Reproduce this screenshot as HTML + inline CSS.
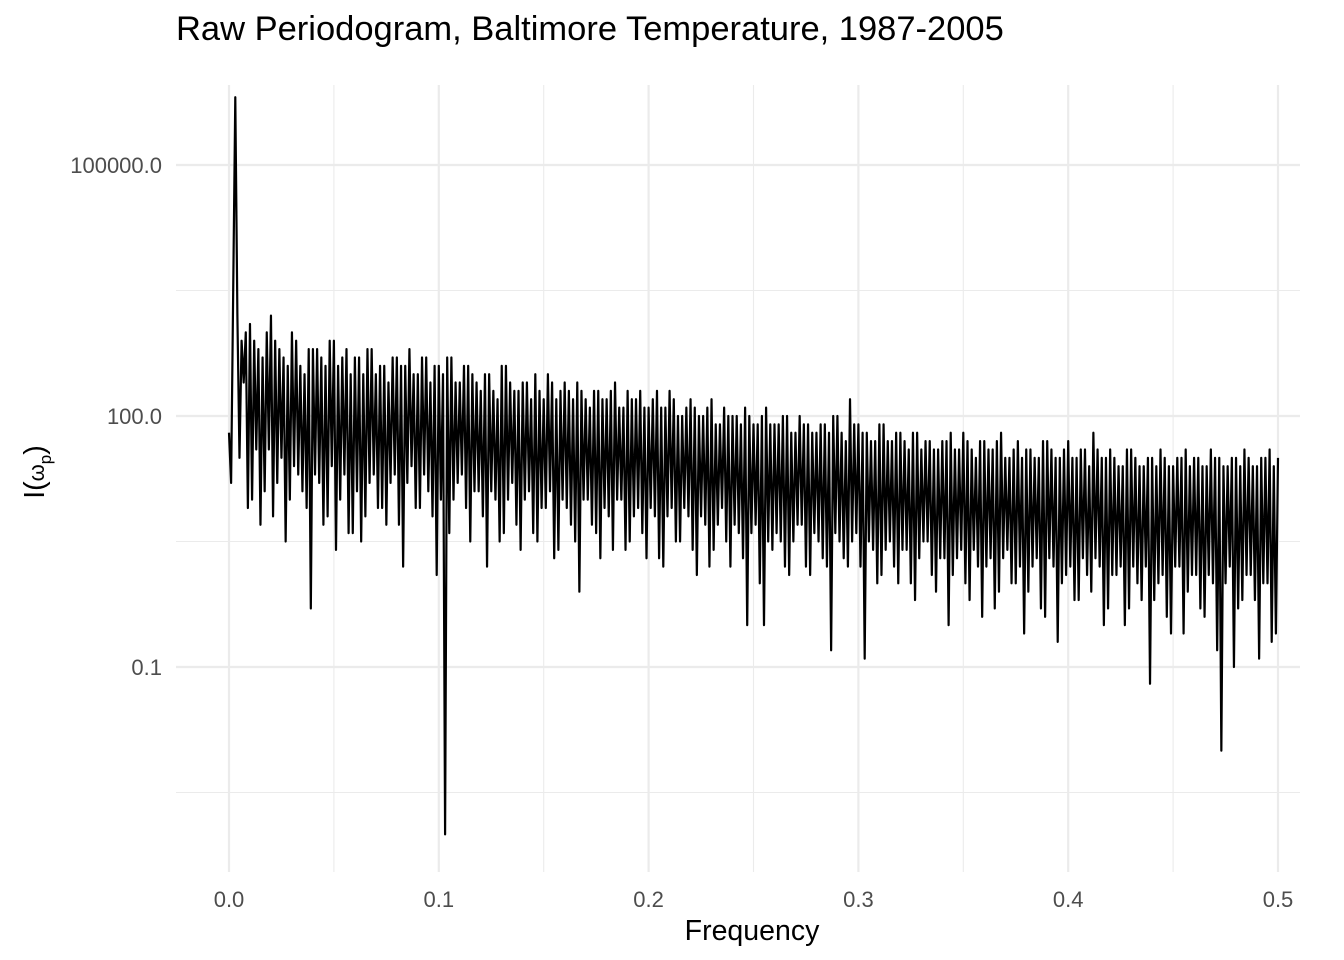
<!DOCTYPE html>
<html><head><meta charset="utf-8"><style>
html,body{margin:0;padding:0;background:#fff;}
svg{display:block;font-family:"Liberation Sans",sans-serif;}
</style></head><body>
<svg id="chart" width="1344" height="960" viewBox="0 0 1344 960">
<text x="176" y="40" font-size="34.5" fill="#000">Raw Periodogram, Baltimore Temperature, 1987-2005</text>
<text x="752" y="940" font-size="28.5" text-anchor="middle" fill="#000">Frequency</text>
<text transform="translate(44,472) rotate(-90)" font-size="28.5" text-anchor="middle" fill="#000">I(<tspan font-size="22">ω</tspan><tspan font-size="17" dy="7">p</tspan><tspan dy="-7">)</tspan></text>
<g id="grid"></g><g id="ticks"></g><g id="series"></g>
</svg>
<script>
const xTicks = [0, 0.1, 0.2, 0.3, 0.4, 0.5];
const xTickLabels = ["0.0", "0.1", "0.2", "0.3", "0.4", "0.5"];
const yTicks = [5, 2, -1];
const yTickLabels = ["100000.0", "100.0", "0.1"];
const freqMax = 0.5;
// log10 power, first value of each 0.002-wide frequency pair
const log10PowerA = [
1.8,5.81,3.2,2.4,3.0,1.0,2.9,0.7,2.7,1.6,
3.2,1.2,2.8,0.5,2.6,1.4,2.9,1.1,2.5,-0.3,
2.8,1.2,2.7,0.8,2.9,0.4,2.6,1.3,2.8,0.6,
2.7,0.5,2.5,1.2,2.8,0.9,2.6,0.7,2.4,1.3,
2.7,0.2,2.6,1.4,2.5,0.9,2.7,1.1,2.4,0.1,
2.6,-3.0,2.7,1.0,2.4,1.3,2.6,0.5,2.5,1.1,
2.3,0.2,2.5,1.0,2.2,0.6,2.6,1.2,2.3,0.4,
2.4,1.1,2.2,0.5,2.3,0.9,2.5,0.3,2.2,1.0,
2.4,0.7,2.2,-0.1,2.3,1.0,2.1,0.6,2.3,0.9,
2.2,0.4,2.4,1.0,2.1,0.5,2.2,0.9,2.3,0.3,
2.1,0.8,2.3,0.2,2.1,0.9,2.2,0.5,2.0,0.8,
2.2,0.1,2.0,0.7,2.1,0.4,1.9,0.9,2.1,0.2,
2.0,0.6,1.9,-0.5,2.0,0.7,1.9,-0.5,2.1,0.4,
1.9,0.5,2.0,0.1,1.8,0.7,2.0,0.2,1.9,0.6,
1.8,0.3,1.9,-0.8,2.0,0.5,1.8,0.2,2.2,0.6,
1.9,-0.9,1.8,0.4,1.7,0.1,1.9,0.5,1.7,0.0,
1.8,0.4,1.6,-0.2,1.8,0.5,1.7,0.1,1.6,0.3,
1.7,-0.5,1.8,0.3,1.6,0.0,1.7,0.4,1.5,-0.4,
1.7,0.3,1.6,-0.1,1.8,0.4,1.5,0.0,1.7,-0.6,
1.6,0.2,1.5,-0.3,1.7,0.3,1.6,-0.7,1.5,0.1,
1.7,-0.2,1.5,0.3,1.6,-0.1,1.8,0.2,1.5,-0.3,
1.6,0.1,1.4,-0.5,1.6,0.2,1.5,-0.2,1.4,-1.2,
1.5,0.0,1.6,-0.4,1.4,0.2,1.5,-0.6,1.6,0.1,
1.5,-0.3,1.4,0.1,1.6,-0.8,1.5,0.0,1.4,-1.0,
1.5,-0.2,1.6,0.1,1.4,-0.9,1.5,0.0,1.6,-0.6,1.5
];
// log10 power, second value of each frequency pair
const log10PowerB = [
1.2,3.5,1.5,2.9,0.9,3.1,1.6,2.8,1.1,3.0,
0.8,2.9,1.5,2.7,1.0,3.0,1.3,2.6,0.9,2.8,
1.3,2.8,0.7,2.6,1.4,2.9,1.0,2.7,0.6,2.5,
1.1,2.7,0.8,2.8,1.3,2.5,0.9,2.6,1.2,2.7,
0.7,2.6,1.2,2.8,0.9,2.5,1.3,2.7,0.8,2.6,
1.0,2.5,0.6,2.7,1.2,2.4,0.9,2.6,1.1,2.4,
0.8,2.5,1.1,2.3,0.5,2.6,1.0,2.4,0.7,2.3,
1.0,2.4,0.6,2.5,0.9,2.2,1.1,2.4,0.4,2.3,
0.9,2.3,0.5,2.4,1.0,2.2,0.7,2.3,0.3,2.2,
0.8,2.3,1.0,2.1,0.4,2.3,0.8,2.2,0.6,2.1,
0.9,2.2,0.3,2.1,0.8,2.3,0.5,2.0,0.9,2.1,
0.4,2.1,0.8,2.0,0.2,2.2,0.7,1.9,0.5,2.0,
0.7,2.0,0.3,2.1,0.6,1.9,0.0,2.0,0.5,1.9,
0.6,1.9,0.2,2.0,0.5,1.8,0.7,1.9,0.1,1.8,
0.5,1.9,0.2,1.8,0.6,2.0,0.3,1.7,0.5,1.9,
0.2,1.8,0.5,1.7,0.0,1.9,0.4,1.7,0.2,1.8,
0.4,1.7,0.0,1.8,0.3,1.6,0.5,1.7,-0.1,1.6,
0.3,1.7,0.1,1.6,0.4,1.8,-0.2,1.6,0.2,1.7,
0.2,1.6,-0.3,1.7,0.3,1.5,0.0,1.6,0.2,1.5,
-0.1,1.6,0.3,1.5,-0.4,1.7,0.2,1.5,0.0,1.6,
0.2,1.5,-0.2,1.6,0.1,1.4,0.3,1.6,-0.5,1.5,
0.1,1.5,0.2,1.4,-0.3,1.6,0.0,1.4,0.2,1.5,
-0.2,1.4,0.1,1.5,-0.6,1.4,0.2,1.5,-0.1,1.4,
0.1,1.5,-0.4,1.4,0.0,1.5,-2.0,1.4,0.2,1.5,
-0.3,1.4,0.1,1.5,-0.2,1.4,0.0,1.5,-0.7,1.4
];
const NS="http://www.w3.org/2000/svg";
function xScale(f){return 229 + f*(1278-229)/0.5;}
function yScale(l){return 416 - (l-2)*(416-165)/3;}
const grid=document.getElementById('grid'), ticks=document.getElementById('ticks'), series=document.getElementById('series');
function line(x1,y1,x2,y2,w,name){
  const l=document.createElementNS(NS,'line');
  l.setAttribute('x1',x1);l.setAttribute('y1',y1);l.setAttribute('x2',x2);l.setAttribute('y2',y2);
  l.setAttribute('stroke','#ebebeb');l.setAttribute('stroke-width',w);
  
  
  grid.appendChild(l);
}
for(let i=0;i<xTicks.length-1;i++){const m=(xTicks[i]+xTicks[i+1])/2;line(xScale(m),85,xScale(m),872,1.1,'x-minor-gridline');}
for(let i=0;i<yTicks.length-1;i++){const m=(yTicks[i]+yTicks[i+1])/2;line(176,yScale(m),1300,yScale(m),1.1,'y-minor-gridline');}
line(176,yScale(yTicks[yTicks.length-1]-1.5),1300,yScale(yTicks[yTicks.length-1]-1.5),1.1,'y-minor-gridline');
xTicks.forEach((t,i)=>{
  line(xScale(t),85,xScale(t),872,2.2,'x-major-gridline');
  const tx=document.createElementNS(NS,'text');
  tx.setAttribute('x',xScale(t));tx.setAttribute('y',907);tx.setAttribute('text-anchor','middle');
  tx.setAttribute('font-size','22');tx.setAttribute('fill','#4d4d4d');tx.textContent=xTickLabels[i];
  
  
  ticks.appendChild(tx);
});
yTicks.forEach((t,i)=>{
  line(176,yScale(t),1300,yScale(t),2.2,'y-major-gridline');
  const tx=document.createElementNS(NS,'text');
  tx.setAttribute('x',162);tx.setAttribute('y',yScale(t)+8);tx.setAttribute('text-anchor','end');
  tx.setAttribute('font-size','22');tx.setAttribute('fill','#4d4d4d');tx.textContent=yTickLabels[i];
  
  
  ticks.appendChild(tx);
});
const merged=[];
for(let i=0;i<log10PowerA.length;i++){
  if(i<log10PowerB.length){
    if(i%2===0){ merged.push(log10PowerA[i]); merged.push(log10PowerB[i]); }
    else { merged.push(log10PowerB[i]); merged.push(log10PowerA[i]); }
  } else merged.push(log10PowerA[i]);
}
const n=merged.length;
const pts=merged.map((v,i)=>xScale(i*freqMax/(n-1)).toFixed(2)+','+yScale(v).toFixed(2)).join(' ');
const pl=document.createElementNS(NS,'polyline');
pl.setAttribute('points',pts);pl.setAttribute('fill','none');pl.setAttribute('stroke','#000');
pl.setAttribute('stroke-width','2.2');pl.setAttribute('stroke-linejoin','round');


series.appendChild(pl);
</script>
</body></html>
